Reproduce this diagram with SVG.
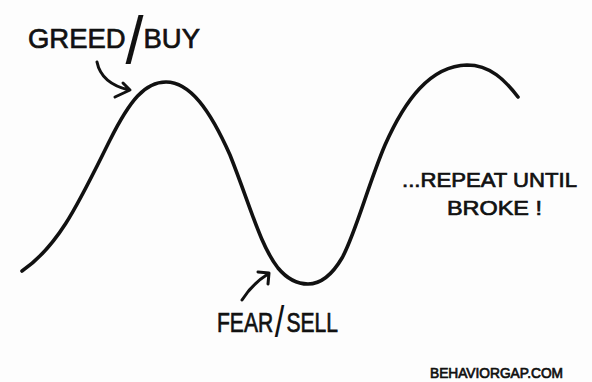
<svg xmlns="http://www.w3.org/2000/svg" width="592" height="382" viewBox="0 0 592 382">
  <style>
    .ink { fill: none; stroke: #111; stroke-linecap: round; stroke-linejoin: round; }
    .lbl { font-family: "Liberation Sans", Arial, sans-serif; fill: #111; stroke: #111; stroke-width: 0.7; }
    .slash { stroke: none; }
  </style>
  <rect width="592" height="382" fill="#fdfdfd"/>
  <g id="connectors">
    <path id="market-curve" class="ink" stroke-width="3.6" d="M22,271 C60,245 80,200 110,140 C130,100 145,82 166,82 C190,82 210,110 230,155 C250,205 260,245 278,268 C288,280 298,284 308,284 C320,284 332,275 342,258 C355,235 368,185 385,145 C405,100 430,66 467,65 C490,65 505,80 518,97"/>
    <path id="greed-arrow" class="ink" stroke-width="3" d="M97,62 C100,77 112,86 129,90 M115,97 L130,90 L123,83"/>
    <path id="fear-arrow" class="ink" stroke-width="3" d="M242,300 Q252,284 268,274 M258,272 L269,273 L268,284"/>
  </g>
  <g id="greed-buy">
    <text class="lbl" x="28" y="48" font-size="28" textLength="172" lengthAdjust="spacingAndGlyphs">GREED<tspan class="slash" font-size="66" dy="15">/</tspan><tspan dy="-15">BUY</tspan></text>
  </g>
  <g id="fear-sell">
    <text class="lbl" x="217" y="332" font-size="27" textLength="121" lengthAdjust="spacingAndGlyphs">FEAR<tspan class="slash" font-size="44" dx="2" dy="5">/</tspan><tspan dx="3" dy="-5">SELL</tspan></text>
  </g>
  <g id="repeat-note">
    <text class="lbl" x="402" y="187" font-size="21" textLength="175" lengthAdjust="spacingAndGlyphs">...REPEAT UNTIL</text>
    <text class="lbl" x="447" y="215" font-size="21" textLength="95" lengthAdjust="spacingAndGlyphs">BROKE !</text>
  </g>
  <g id="credit">
    <text class="lbl" x="430" y="378" font-size="14" stroke-width="0.4" textLength="133" lengthAdjust="spacingAndGlyphs">BEHAVIORGAP.COM</text>
  </g>
</svg>
